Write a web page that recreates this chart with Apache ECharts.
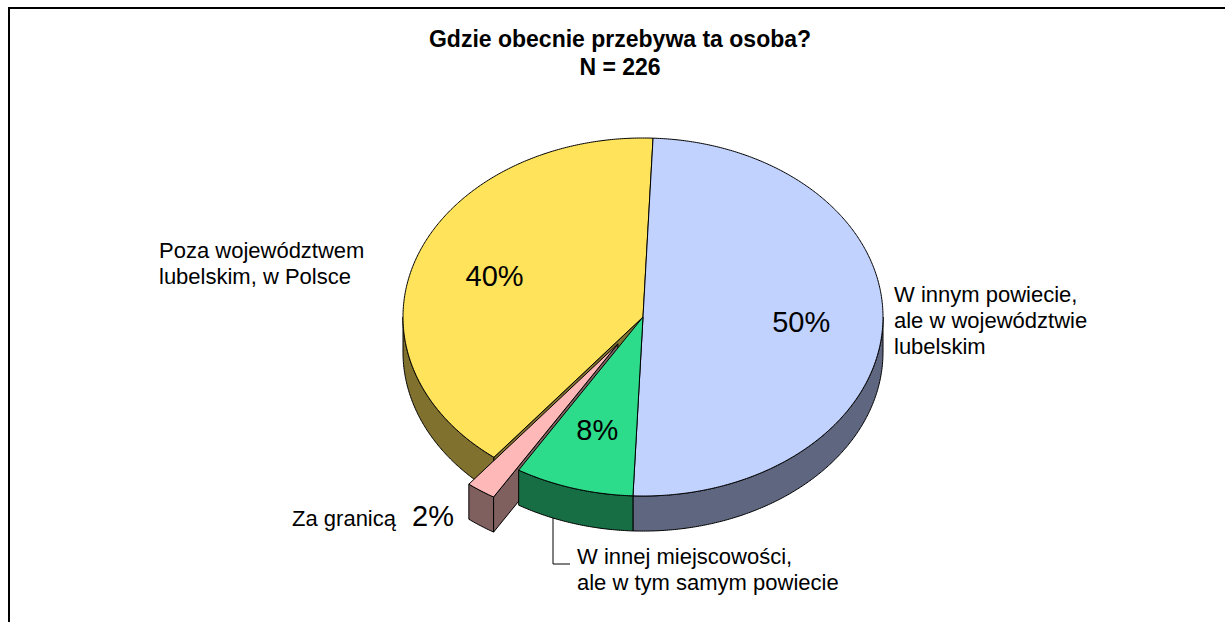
<!DOCTYPE html>
<html>
<head>
<meta charset="utf-8">
<script src="https://cdn.jsdelivr.net/npm/echarts@6/dist/echarts.min.js"></script>
<style>
html,body{margin:0;padding:0;background:#ffffff;overflow:hidden;}
#chart{width:1225px;height:622px;}
</style>
</head>
<body>
<div id="chart"></div>
<script>
// ---- data ----
const titleLines = ['Gdzie obecnie przebywa ta osoba?', 'N = 226'];
const categories = [
  'W innym powiecie,\nale w województwie\nlubelskim',
  'W innej miejscowości,\nale w tym samym powiecie',
  'Za granicą',
  'Poza województwem\nlubelskim, w Polsce'
];
const values = [50, 8, 2, 40];
const exploded = [false, false, true, false];

// ---- styles ----
const topColors  = ['#C2D2FF', '#2DDC8B', '#FFB8B8', '#FFE35B'];
const sideColors = ['#5F6780', '#176E45', '#80605F', '#80712E'];
const FONT = '"Liberation Sans", Arial, sans-serif';

const START = 87.6;      // degrees, first slice edge (counter-clockwise from 3 o'clock)
const DEPTH = 0.196;     // pie thickness in axis units
const EXPLODE = 0.183;   // explode distance in axis units
const LABEL_R = 0.66;    // radius of percentage labels

const total = values.reduce((a, b) => a + b, 0);
const rad = d => d * Math.PI / 180;
const slices = [];
(function () {
  let acc = 0;
  values.forEach((v, i) => {
    const from = START - acc / total * 360;
    acc += v;
    const to = START - acc / total * 360;
    const mid = (from + to) / 2;
    const off = exploded[i] ? [EXPLODE * Math.cos(rad(mid)), EXPLODE * Math.sin(rad(mid))] : [0, 0];
    slices.push({ from, to, mid, off });
  });
})();
// painter order: back slices first
const order = slices.map((s, i) => i).sort((a, b) => Math.sin(rad(slices[b].mid)) - Math.sin(rad(slices[a].mid)));
const rank = [];
order.forEach((idx, r) => { rank[idx] = r; });

function renderItem(params, api) {
  const i = params.dataIndex;
  const s = slices[i];
  const n = values.length;
  const P = (a, r, dz) => api.coord([s.off[0] + r * Math.cos(rad(a)), s.off[1] + r * Math.sin(rad(a)) - dz]);
  const arc = (hi, lo, dz) => {
    const pts = [];
    const steps = Math.max(2, Math.ceil((hi - lo) / 0.5));
    for (let k = 0; k <= steps; k++) pts.push(P(hi - (hi - lo) * k / steps, 1, dz));
    return pts;
  };
  const base = rank[i] * 10;
  const lineStyle = { stroke: '#000', lineWidth: 1, lineJoin: 'round' };
  const children = [];

  // outer wall (front part only)
  for (let k = -1; k <= 1; k++) {
    const lo = Math.max(s.to, 180 + 360 * k);
    const hi = Math.min(s.from, 360 + 360 * k);
    if (lo < hi) {
      const pts = arc(hi, lo, 0).concat(arc(hi, lo, DEPTH).reverse());
      children.push({ type: 'polygon', z2: base + 1, shape: { points: pts },
        style: Object.assign({ fill: sideColors[i] }, lineStyle) });
    }
  }
  // radial walls next to an exploded slice
  const prev = (i - 1 + n) % n, next = (i + 1) % n;
  const radial = a => [P(a, 0, 0), P(a, 1, 0), P(a, 1, DEPTH), P(a, 0, DEPTH)];
  if (Math.cos(rad(s.from)) < 0 && (exploded[i] || exploded[prev])) {
    children.push({ type: 'polygon', z2: base + 2, shape: { points: radial(s.from) },
      style: Object.assign({ fill: sideColors[i] }, lineStyle) });
  }
  if (Math.cos(rad(s.to)) > 0 && (exploded[i] || exploded[next])) {
    children.push({ type: 'polygon', z2: base + 2, shape: { points: radial(s.to) },
      style: Object.assign({ fill: sideColors[i] }, lineStyle) });
  }
  // top face
  const top = [P(0, 0, 0)].concat(arc(s.from, s.to, 0));
  children.push({ type: 'polygon', z2: base + 3, shape: { points: top },
    style: Object.assign({ fill: topColors[i] }, lineStyle) });

  // percentage label (inside) for non-exploded slices
  if (!exploded[i]) {
    const c = P(s.mid, LABEL_R, 0);
    children.push({ type: 'text', z2: 200, x: c[0], y: c[1],
      style: { text: values[i] + '%', fontSize: 29, fontFamily: FONT, fill: '#000',
        align: 'center', verticalAlign: 'middle' } });
  }
  return { type: 'group', children };
}

const chart = echarts.init(document.getElementById('chart'), null, { renderer: 'svg' });
chart.setOption({
  animation: false,
  backgroundColor: '#ffffff',
  grid: { left: 403, top: 138, width: 480, height: 358, show: false },
  xAxis: { type: 'value', min: -1, max: 1, show: false },
  yAxis: { type: 'value', min: -1, max: 1, show: false },
  series: [{
    type: 'custom',
    coordinateSystem: 'cartesian2d',
    clip: false,
    renderItem: renderItem,
    data: values.map((v, i) => ({ name: categories[i], value: [0, 0, v] }))
  }],
  graphic: [
    { type: 'polyline', shape: { points: [[9, 640], [9, 8], [1240, 8]] }, silent: true,
      style: { fill: 'none', stroke: '#000', lineWidth: 2 } },
    { type: 'text', x: 620, y: 39, style: { text: titleLines[0], fontSize: 23, fontWeight: 'bold',
      fontFamily: FONT, fill: '#000', align: 'center', verticalAlign: 'middle' } },
    { type: 'text', x: 620, y: 67, style: { text: titleLines[1], fontSize: 23, fontWeight: 'bold',
      fontFamily: FONT, fill: '#000', align: 'center', verticalAlign: 'middle' } },
    { type: 'text', x: 894, y: 281, style: { text: categories[0], fontSize: 22, lineHeight: 26,
      fontFamily: FONT, fill: '#000', align: 'left', verticalAlign: 'top' } },
    { type: 'text', x: 577, y: 543, style: { text: categories[1], fontSize: 22, lineHeight: 26,
      fontFamily: FONT, fill: '#000', align: 'left', verticalAlign: 'top' } },
    { type: 'text', x: 396, y: 518, style: { text: categories[2], fontSize: 22,
      fontFamily: FONT, fill: '#000', align: 'right', verticalAlign: 'middle' } },
    { type: 'text', x: 412, y: 515.5, style: { text: values[2] + '%', fontSize: 29,
      fontFamily: FONT, fill: '#000', align: 'left', verticalAlign: 'middle' } },
    { type: 'text', x: 159, y: 237, style: { text: categories[3], fontSize: 22, lineHeight: 26.5,
      fontFamily: FONT, fill: '#000', align: 'left', verticalAlign: 'top' } },
    { type: 'polyline', shape: { points: [[553, 505], [553, 564], [570, 564]] },
      style: { stroke: '#000', lineWidth: 1, fill: 'none' } }
  ]
});
</script>
</body>
</html>
